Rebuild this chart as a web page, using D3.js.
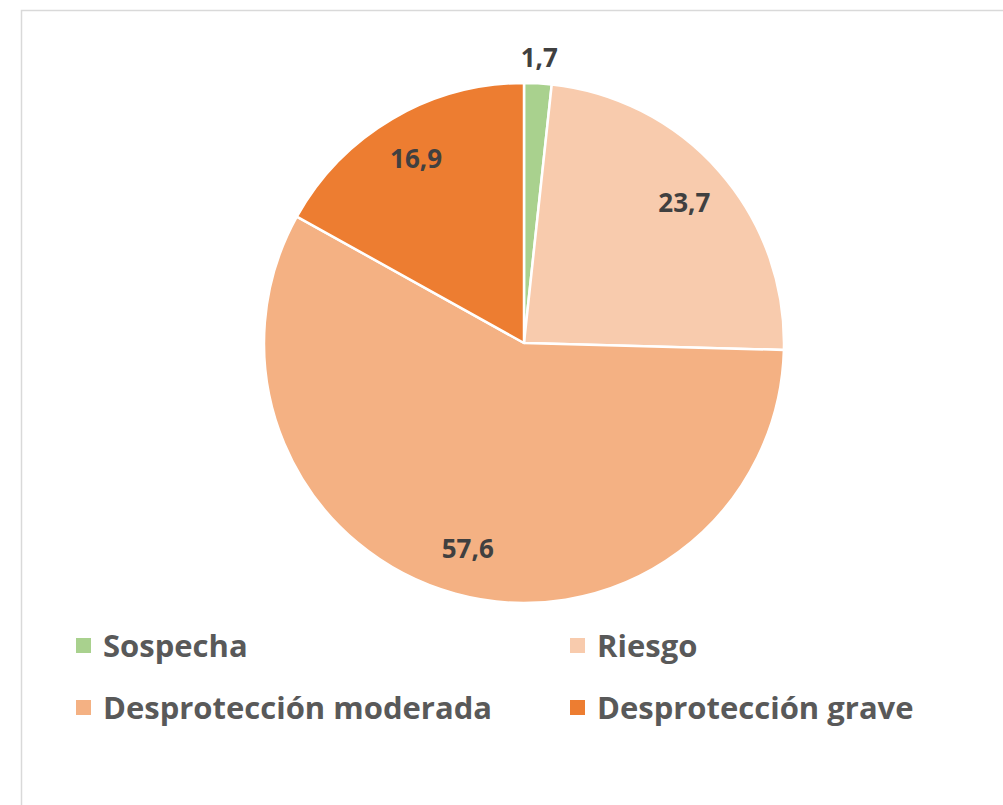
<!DOCTYPE html>
<html>
<head>
<meta charset="utf-8">
<script src="https://cdn.jsdelivr.net/npm/d3@7"></script>
<style>
  body { margin: 0; background: #fff; }
  text { font-family: "Open Sans", Lato, sans-serif; font-weight: bold; }
</style>
</head>
<body>
<div class="chart"></div>
<script>
const categories = ["Sospecha", "Riesgo", "Desprotección moderada", "Desprotección grave"];
const values = [1.7, 23.7, 57.6, 16.9];
const labels = ["1,7", "23,7", "57,6", "16,9"];
const colors = ["#A9D18E", "#F8CBAD", "#F4B183", "#ED7D31"];

const width = 1003, height = 805;
const cx = 524, cy = 343, radius = 260;

const svg = d3.select(".chart").append("svg")
    .attr("width", width)
    .attr("height", height);

// chart area border (runs off the right and bottom edges)
svg.append("rect")
    .attr("x", 21.5).attr("y", 10.5)
    .attr("width", 1100).attr("height", 900)
    .attr("fill", "none")
    .attr("stroke", "#d9d9d9")
    .attr("stroke-width", 1.5);

const data = categories.map((c, i) => ({name: c, value: values[i], label: labels[i], color: colors[i]}));

const pie = d3.pie().sort(null).value(d => d.value);
const arc = d3.arc().innerRadius(0).outerRadius(radius);
const arcs = pie(data);

const g = svg.append("g").attr("transform", "translate(" + cx + "," + cy + ")");

g.selectAll("path")
    .data(arcs)
  .enter().append("path")
    .attr("d", arc)
    .attr("fill", d => d.data.color)
    .attr("stroke", "#fff")
    .attr("stroke-width", 2.5)
    .attr("stroke-linejoin", "round");

// small slices get their label outside the pie
const labelArcIn = d3.arc().innerRadius(213).outerRadius(213);
const labelArcOut = d3.arc().innerRadius(286).outerRadius(286);

g.selectAll(".lbl")
    .data(arcs)
  .enter().append("text")
    .attr("class", "lbl")
    .attr("transform", d => {
      const a = (d.endAngle - d.startAngle) < 0.2 ? labelArcOut : labelArcIn;
      return "translate(" + a.centroid(d) + ")";
    })
    .attr("text-anchor", "middle")
    .attr("dy", "0.35em")
    .attr("fill", "#404040")
    .style("font-size", "26px")
    .text(d => d.data.label);

// legend, two columns
const legX = [76, 570], legY = [646, 708];
const leg = svg.selectAll(".leg")
    .data(data)
  .enter().append("g")
    .attr("class", "leg")
    .attr("transform", (d, i) => "translate(" + legX[i % 2] + "," + legY[Math.floor(i / 2)] + ")");

leg.append("rect")
    .attr("x", 0).attr("y", -8)
    .attr("width", 15).attr("height", 15)
    .attr("fill", d => d.color);

leg.append("text")
    .attr("x", 27)
    .attr("dy", "0.35em")
    .attr("fill", "#595959")
    .style("font-size", "31px")
    .text(d => d.name);
</script>
</body>
</html>
